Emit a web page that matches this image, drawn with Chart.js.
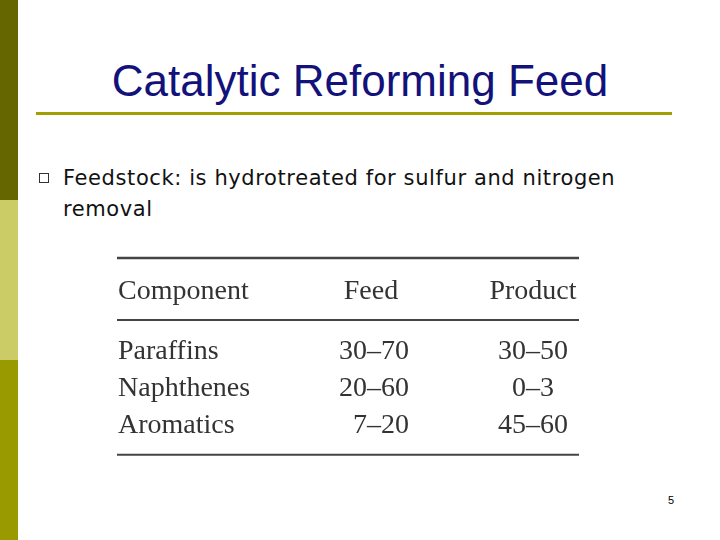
<!DOCTYPE html>
<html>
<head>
<meta charset="utf-8">
<script src="https://cdn.jsdelivr.net/npm/chart.js@4"></script>
<style>
  body { margin: 0; width: 720px; height: 540px; position: relative; background: #fff; overflow: hidden; font-family: "DejaVu Sans", sans-serif; }
  .bar { position: absolute; left: 0; width: 18px; }
  #title { position: absolute; top: 56px; left: 0; width: 720px; text-align: center; font-family: "Liberation Sans", Arial, sans-serif; font-size: 44px; color: #12127a; }
  #rule { position: absolute; top: 112px; left: 36px; width: 636px; height: 3px; background: #a0a000; }
  #bullet { position: absolute; left: 39px; top: 173px; width: 8px; height: 8px; border: 1.5px solid #333; }
  #text { position: absolute; left: 63px; top: 163px; font-size: 21px; letter-spacing: 0.6px; line-height: 31px; color: #111; width: 615px; }
  #page { position: absolute; left: 668px; top: 494px; font-family: "Liberation Sans", Arial, sans-serif; font-size: 11px; }
  #wrap { position: absolute; left: 100px; top: 240px; width: 500px; height: 230px; }
</style>
</head>
<body>
<div class="bar" style="top:0;height:200px;background:#666600"></div>
<div class="bar" style="top:200px;height:160px;background:#cccc66"></div>
<div class="bar" style="top:360px;height:180px;background:#999900"></div>
<div id="title">Catalytic Reforming Feed</div>
<div id="rule"></div>
<div id="bullet"></div>
<div id="text">Feedstock: is hydrotreated for sulfur and nitrogen removal</div>
<div id="page">5</div>
<div id="wrap"><canvas id="tbl"></canvas></div>
<script>
const headers = ['Component', 'Feed', 'Product'];
const components = ['Paraffins', 'Naphthenes', 'Aromatics'];
const feed = ['30\u201370', '20\u201360', '7\u201320'];
const product = ['30\u201350', '0\u20133', '45\u201360'];

// table drawing through the chart's own scales
const tablePlugin = {
  id: 'table',
  afterDraw(chart) {
    const ctx = chart.ctx, x = chart.scales.x, y = chart.scales.y;
    ctx.save();
    ctx.strokeStyle = '#444';
    [[-2.54, 2.5], [-0.865, 2], [2.78, 2]].forEach(([v, w]) => {
      ctx.lineWidth = w;
      ctx.beginPath();
      ctx.moveTo(x.getPixelForValue(17), y.getPixelForValue(v));
      ctx.lineTo(x.getPixelForValue(479), y.getPixelForValue(v));
      ctx.stroke();
    });
    ctx.fillStyle = '#333';
    ctx.font = '28px "Liberation Serif", "Times New Roman", serif';
    ctx.textBaseline = 'middle';
    ctx.textAlign = 'left';
    ctx.fillText(headers[0], x.getPixelForValue(18), y.getPixelForValue(-1.62));
    ctx.textAlign = 'center';
    ctx.fillText(headers[1], x.getPixelForValue(271), y.getPixelForValue(-1.62));
    ctx.fillText(headers[2], x.getPixelForValue(433), y.getPixelForValue(-1.62));
    components.forEach((c, i) => {
      const py = y.getPixelForValue(i);
      ctx.textAlign = 'left';
      ctx.fillText(c, x.getPixelForValue(18), py);
      ctx.textAlign = 'right';
      ctx.fillText(feed[i], x.getPixelForValue(309), py);
      ctx.textAlign = 'center';
      ctx.fillText(product[i], x.getPixelForValue(433), py);
    });
    ctx.restore();
  }
};

new Chart(document.getElementById('tbl'), {
  type: 'scatter',
  data: { datasets: [{ data: [] }] },
  options: {
    responsive: true,
    maintainAspectRatio: false,
    animation: false,
    layout: { padding: 0 },
    plugins: { legend: { display: false }, tooltip: { enabled: false } },
    scales: {
      x: { type: 'linear', min: 0, max: 500, display: false },
      y: { type: 'linear', min: -3.03, max: 3.19, reverse: true, display: false }
    }
  },
  plugins: [tablePlugin]
});
</script>
</body>
</html>
